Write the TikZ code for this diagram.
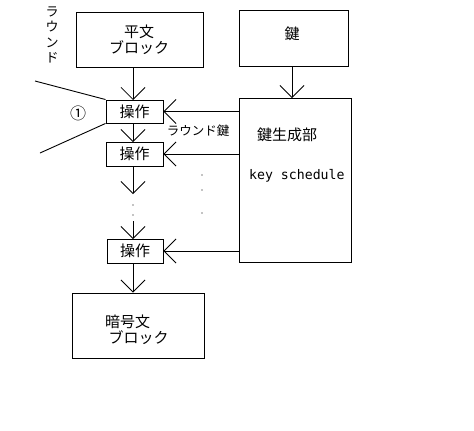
\documentclass[tikz,border=0pt]{standalone}
\usepackage{fontspec}
\setmainfont{Noto Sans CJK JP}
\newfontfamily\monofont{DejaVu Sans Mono}
\usetikzlibrary{arrows.meta}
\begin{document}
\begin{tikzpicture}[x=1pt,y=-1pt,
  box/.style={draw,line width=0.9pt,inner sep=0pt,align=center},
  arr/.style={line width=0.9pt,-{Straight Barb[length=12pt,width=24pt,line width=0.8pt]}},
  ln/.style={line width=0.9pt},
  jp/.style={font=\fontsize{15}{16}\selectfont}]
\useasboundingbox[fill=white] (0,0) rectangle (474,431);
\node[box,minimum width=127pt,minimum height=55pt] (plain) at (139.5,39.5) {};
\node[jp,align=center,inner sep=0pt] (ptext) at (139,40) {平文\\ ブロック};
\node[box,minimum width=109pt,minimum height=56pt] (keybox) at (293.5,38) {};
\node[jp,inner sep=0pt] (ktext) at (292,34) {鍵};
\node[box,minimum width=112pt,minimum height=164pt] (keygen) at (295,180.5) {};
\node[box,jp,minimum width=57pt,minimum height=23pt] (op1) at (134.5,111.5) {操作};
\node[box,jp,minimum width=57pt,minimum height=24pt] (op2) at (134.5,154) {操作};
\node[box,jp,minimum width=56pt,minimum height=24pt] (op3) at (135,251) {操作};
\node[box,minimum width=132pt,minimum height=65pt] (cipher) at (138,325.5) {};
\node[jp,align=left,anchor=west,inner sep=0pt] (ctext) at (105,330) {暗号文\\ \ ブロック};
\node[jp,anchor=west,inner sep=0pt] (kgtext) at (257,135) {鍵生成部};
\node[anchor=west,inner sep=0pt,font=\monofont\fontsize{13.2}{14}\selectfont] (ks) at (249,176) {key schedule};
\node[font=\fontsize{12.5}{14}\selectfont,inner sep=0pt] (rk) at (198,131) {ラウンド鍵};
\node[font=\fontsize{13}{15.5}\selectfont,align=center,inner sep=0pt] (rnd) at (52,35) {ラ\\ウ\\ン\\ド};
\node[font=\fontsize{16}{16}\selectfont,inner sep=0pt] (circ) at (78,113) {①};
% connectors
\coordinate (p1) at (133,67);
\draw[arr] (p1) -- (133,100);
\draw[arr] (ktext.south |- keybox.south) -- (ktext.south |- keygen.north);
\draw[arr] (133,123) -- (133,142);
\coordinate (d1) at (133,166);
\coordinate (d2) at (133,194);
\draw[arr] (d1) -- (d2);
\coordinate (d3) at (133,221);
\draw[arr] (d3) -- (133,239);
\draw[arr] (133,263) -- (cipher.north -| 133,0);
\draw[arr] (keygen.west |- op1.east) -- (op1.east);
\draw[arr] (keygen.west |- op2.east) -- (op2.east);
\draw[arr] (keygen.west |- op3.east) -- (op3.east);
% dots
\foreach \y in {205,215} \fill (133,\y) circle (0.6pt);
\foreach \y in {175,190,213} \fill (202,\y) circle (0.6pt);
% round bracket lines
\coordinate (l1) at (35,81);
\coordinate (l2) at (40,153);
\draw[ln] (l1) -- (op1.north west);
\draw[ln] (l2) -- (op1.south west);
\end{tikzpicture}
\end{document}
